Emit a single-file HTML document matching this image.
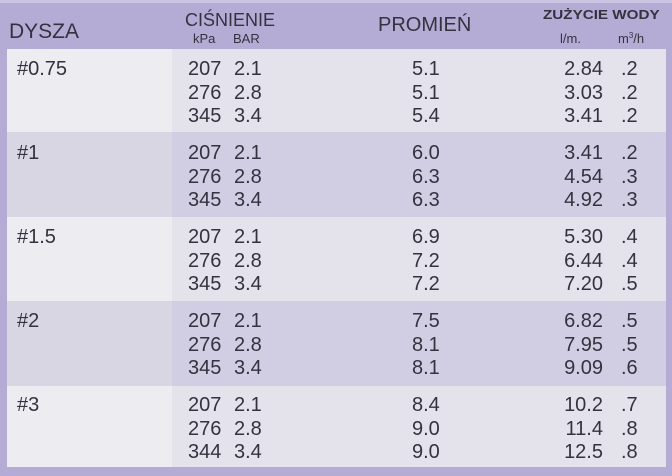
<!DOCTYPE html>
<html><head><meta charset="utf-8">
<style>
html,body{margin:0;padding:0;}
body{width:672px;height:476px;position:relative;overflow:hidden;background:#b5acd6;font-family:"Liberation Sans",Arial,sans-serif;color:#34323f;}
.top{position:absolute;left:0;top:0;width:672px;height:3px;background:#cbc4e3;}
.a{position:absolute;white-space:nowrap;}
.row{position:absolute;left:7px;width:659px;}
.row .l{position:absolute;left:0;top:0;width:165px;height:100%;}
.row .r{position:absolute;left:165px;top:0;width:494px;height:100%;}
.lt .l{background:#ececf1;} .lt .r{background:#e4e3ec;}
.dk .l{background:#d9d6e4;} .dk .r{background:#d1cde2;}
.n{font-size:20px;line-height:23.5px;}
.num{font-size:20px;line-height:23.5px;}
.ra{text-align:right;}
</style></head><body>
<div class="top"></div>

<!-- header -->
<div class="a" style="left:9px;top:20px;font-size:21px;line-height:24px;">DYSZA</div>
<div class="a" style="left:185px;top:10px;font-size:18px;line-height:21px;">CIŚNIENIE</div>
<div class="a" style="left:193px;top:32px;font-size:13px;line-height:14px;">kPa</div>
<div class="a" style="left:233px;top:32px;font-size:13px;line-height:14px;">BAR</div>
<div class="a" style="left:378px;top:14px;font-size:20px;line-height:23px;">PROMIEŃ</div>
<div class="a" style="left:543px;top:7px;font-size:13px;line-height:15px;font-weight:bold;transform:scaleX(1.17);transform-origin:0 0;">ZUŻYCIE WODY</div>
<div class="a" style="left:560px;top:32px;font-size:13px;line-height:14px;">l/m.</div>
<div class="a" style="left:618px;top:32px;font-size:13px;line-height:14px;">m<sup style="font-size:8px;vertical-align:5px;line-height:0;">3</sup>/h</div>

<!-- rows -->
<div class="row lt" style="top:49px;height:83px;"><div class="l"></div><div class="r"></div></div>
<div class="row dk" style="top:132px;height:85px;"><div class="l"></div><div class="r"></div></div>
<div class="row lt" style="top:217px;height:84px;"><div class="l"></div><div class="r"></div></div>
<div class="row dk" style="top:301px;height:85px;"><div class="l"></div><div class="r"></div></div>
<div class="row lt" style="top:386px;height:81px;"><div class="l"></div><div class="r"></div></div>

<!-- row 1 -->
<div class="a n" style="left:17px;top:58px;">#0.75</div>
<div class="a num" style="left:188px;top:58px;">207<br>276<br>345</div>
<div class="a num" style="left:234px;top:58px;">2.1<br>2.8<br>3.4</div>
<div class="a num" style="left:412px;top:58px;">5.1<br>5.1<br>5.4</div>
<div class="a num ra" style="right:69px;top:58px;">2.84<br>3.03<br>3.41</div>
<div class="a num" style="left:621px;top:58px;">.2<br>.2<br>.2</div>

<!-- row 2 -->
<div class="a n" style="left:17px;top:142px;">#1</div>
<div class="a num" style="left:188px;top:142px;">207<br>276<br>345</div>
<div class="a num" style="left:234px;top:142px;">2.1<br>2.8<br>3.4</div>
<div class="a num" style="left:412px;top:142px;">6.0<br>6.3<br>6.3</div>
<div class="a num ra" style="right:69px;top:142px;">3.41<br>4.54<br>4.92</div>
<div class="a num" style="left:621px;top:142px;">.2<br>.3<br>.3</div>

<!-- row 3 -->
<div class="a n" style="left:17px;top:226px;">#1.5</div>
<div class="a num" style="left:188px;top:226px;">207<br>276<br>345</div>
<div class="a num" style="left:234px;top:226px;">2.1<br>2.8<br>3.4</div>
<div class="a num" style="left:412px;top:226px;">6.9<br>7.2<br>7.2</div>
<div class="a num ra" style="right:69px;top:226px;">5.30<br>6.44<br>7.20</div>
<div class="a num" style="left:621px;top:226px;">.4<br>.4<br>.5</div>

<!-- row 4 -->
<div class="a n" style="left:17px;top:310px;">#2</div>
<div class="a num" style="left:188px;top:310px;">207<br>276<br>345</div>
<div class="a num" style="left:234px;top:310px;">2.1<br>2.8<br>3.4</div>
<div class="a num" style="left:412px;top:310px;">7.5<br>8.1<br>8.1</div>
<div class="a num ra" style="right:69px;top:310px;">6.82<br>7.95<br>9.09</div>
<div class="a num" style="left:621px;top:310px;">.5<br>.5<br>.6</div>

<!-- row 5 -->
<div class="a n" style="left:17px;top:394px;">#3</div>
<div class="a num" style="left:188px;top:394px;">207<br>276<br>344</div>
<div class="a num" style="left:234px;top:394px;">2.1<br>2.8<br>3.4</div>
<div class="a num" style="left:412px;top:394px;">8.4<br>9.0<br>9.0</div>
<div class="a num ra" style="right:69px;top:394px;">10.2<br>11.4<br>12.5</div>
<div class="a num" style="left:621px;top:394px;">.7<br>.8<br>.8</div>

</body></html>
